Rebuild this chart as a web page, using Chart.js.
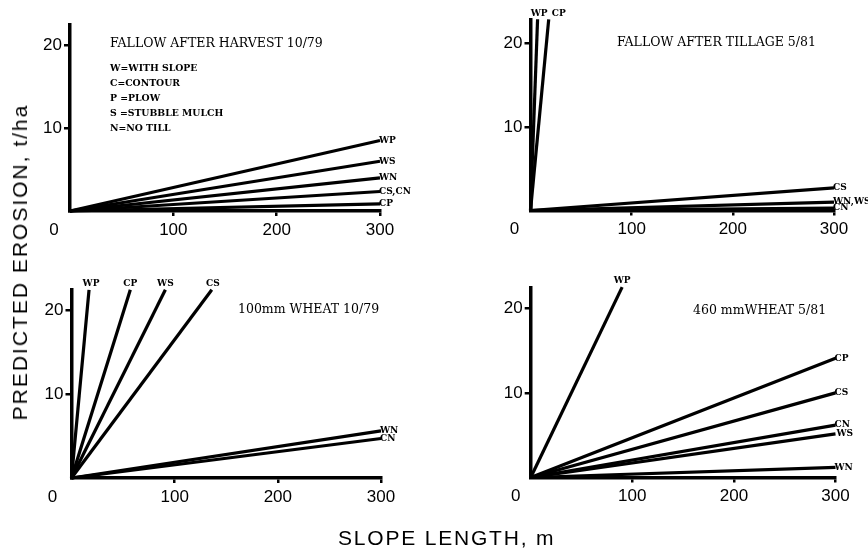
<!DOCTYPE html>
<html><head><meta charset="utf-8">
<script src="https://cdn.jsdelivr.net/npm/chart.js@4"></script>
<style>
html,body{margin:0;padding:0;background:#fff;}
#wrap{position:relative;width:868px;height:553px;overflow:hidden;background:#fff;}
#wrap canvas{position:absolute;left:0;top:0;}
#ytitle{position:absolute;left:20px;top:262px;transform:translate(-50%,-50%) rotate(-90deg);font:21px "Liberation Sans",sans-serif;letter-spacing:2px;white-space:nowrap;color:#000;}
#xtitle{position:absolute;left:338px;top:526px;font:21px "Liberation Sans",sans-serif;letter-spacing:1.8px;white-space:nowrap;color:#000;}
</style></head>
<body>
<div id="wrap">
<canvas id="c1" width="868" height="553"></canvas>
<canvas id="c2" width="868" height="553"></canvas>
<canvas id="c3" width="868" height="553"></canvas>
<canvas id="c4" width="868" height="553"></canvas>
<div id="ytitle">PREDICTED EROSION, t/ha</div>
<div id="xtitle">SLOPE LENGTH, m</div>
</div>
<script>
// ---- data ----
const xTickLabels = ['0','100','200','300'];
const yTickLabels = ['0','10','20'];

const p1Title = 'FALLOW AFTER HARVEST 10/79';
const p1Key = ['W=WITH SLOPE','C=CONTOUR','P =PLOW','S =STUBBLE MULCH','N=NO TILL'];
const p1Series = ['WP','WS','WN','CS,CN','CP'];
const p1EndX = [300,300,300,300,300];
const p1EndY = [8.5,6.0,4.0,2.35,0.85];

const p2Title = 'FALLOW AFTER TILLAGE 5/81';
const p2Series = ['WP','CP','CS','WN,WS','CN'];
const p2EndX = [7,18,300,300,300];
const p2EndY = [22.9,22.9,2.7,1.0,0.3];

const p3Title = '100mm WHEAT 10/79';
const p3Series = ['WP','CP','WS','CS','WN','CN'];
const p3EndX = [17,57,91,136,300,300];
const p3EndY = [22.4,22.4,22.4,22.4,5.6,4.7];

const p4Title = '460 mmWHEAT 5/81';
const p4Series = ['WP','CP','CS','CN','WS','WN'];
const p4EndX = [90,300,300,300,300,300];
const p4EndY = [22.5,14.1,10.0,6.2,5.15,1.2];

// ---- layout / style ----
const YW = 40, XH = 30;
const panels = [
  {id:'c1', title:p1Title, key:p1Key, names:p1Series, ex:p1EndX, ey:p1EndY, ymax:22.5,
   area:{l:70,r:380,t:24.3,b:211}, titlePos:[110,44], keyPos:[110,69,14.8], zeroDx:-16,
   side:['r','r','r','r','r'], dx:[0,0,0,0,0]},
  {id:'c2', title:p2Title, key:[], names:p2Series, ex:p2EndX, ey:p2EndY, ymax:22.9,
   area:{l:530.5,r:834,t:19.3,b:210.5}, titlePos:[617,43], keyPos:[0,0,0], zeroDx:-16,
   side:['t','t','r','r','r'], dx:[1.5,10,0,0,0]},
  {id:'c3', title:p3Title, key:[], names:p3Series, ex:p3EndX, ey:p3EndY, ymax:22.4,
   area:{l:71.5,r:381,t:289.8,b:478}, titlePos:[238,310], keyPos:[0,0,0], zeroDx:-19,
   side:['t','t','t','t','r','r'], dx:[2,0,0,1,0,0]},
  {id:'c4', title:p4Title, key:[], names:p4Series, ex:p4EndX, ey:p4EndY, ymax:22.4,
   area:{l:530.7,r:835.5,t:288,b:477.5}, titlePos:[693,311], keyPos:[0,0,0], zeroDx:-15,
   side:['t','r','r','r','r','r'], dx:[0,0,0,0,2,0]}
];

function annotPlugin(p){
  return {
    id:'annot_'+p.id,
    afterDraw(chart){
      const ctx = chart.ctx, xs = chart.scales.x, ys = chart.scales.y;
      ctx.save();
      ctx.fillStyle = '#000';
      ctx.textBaseline = 'middle';
      ctx.textAlign = 'left';
      ctx.font = '12.5px "DejaVu Serif", serif';
      ctx.fillText(p.title, p.titlePos[0], p.titlePos[1]);
      ctx.font = 'bold 9.3px "DejaVu Serif", serif';
      p.key.forEach((k,i)=>ctx.fillText(k, p.keyPos[0], p.keyPos[1] + i*p.keyPos[2]));
      ctx.font = 'bold 9px "DejaVu Serif", serif';
      p.names.forEach((n,i)=>{
        const px = xs.getPixelForValue(p.ex[i]);
        const py = ys.getPixelForValue(p.ey[i]);
        if (p.side[i]==='t'){
          ctx.textAlign='center';
          ctx.fillText(n, px + p.dx[i], py - 6);
        } else {
          ctx.textAlign='left';
          ctx.fillText(n, px - 1 + p.dx[i], py);
        }
      });
      ctx.textAlign='center';
      ctx.font = '17px "Liberation Sans", sans-serif';
      ctx.fillText(xTickLabels[0], xs.getPixelForValue(0) + p.zeroDx, ys.getPixelForValue(0) + 19);
      ctx.restore();
    }
  };
}

function makeChart(p){
  const datasets = p.names.map((n,i)=>({
    label:n,
    data:[{x:0,y:0},{x:p.ex[i],y:p.ey[i]}],
    borderColor:'#000', backgroundColor:'#000', borderWidth:3.2,
    pointRadius:0, showLine:true, fill:false, clip:false, tension:0
  }));
  const tickFont = {family:'"Liberation Sans", sans-serif', size:17};
  new Chart(document.getElementById(p.id), {
    type:'scatter',
    data:{datasets},
    options:{
      responsive:false, animation:false, devicePixelRatio:1, events:[],
      layout:{padding:{left:p.area.l - YW, right:868-p.area.r, top:p.area.t, bottom:553-p.area.b-XH}},
      plugins:{legend:{display:false}, tooltip:{enabled:false}},
      scales:{
        x:{type:'linear', min:0, max:300,
           afterFit:s=>{s.height=XH;},
           ticks:{stepSize:100, includeBounds:false, padding:4, color:'#000', font:tickFont, maxRotation:0, autoSkip:false,
                  callback:v=> v===0 ? '' : xTickLabels[Math.round(v/100)]},
           grid:{display:true, drawOnChartArea:false, drawTicks:true, tickLength:5, lineWidth:2.5,
                 color:c=> (c.tick && c.tick.value===0) ? 'rgba(0,0,0,0)' : '#000'},
           border:{display:true, color:'#000', width:3.5}},
        y:{type:'linear', min:0, max:p.ymax,
           afterFit:s=>{s.width=YW;},
           ticks:{stepSize:10, includeBounds:false, padding:2, color:'#000', font:tickFont, autoSkip:false,
                  callback:v=> v===0 ? '' : yTickLabels[Math.round(v/10)]},
           grid:{display:true, drawOnChartArea:false, drawTicks:true, tickLength:6, lineWidth:2.5,
                 color:c=> (c.tick && c.tick.value===0) ? 'rgba(0,0,0,0)' : '#000'},
           border:{display:true, color:'#000', width:3.5}}
      }
    },
    plugins:[annotPlugin(p)]
  });
}
panels.forEach(makeChart);
</script>
</body></html>
